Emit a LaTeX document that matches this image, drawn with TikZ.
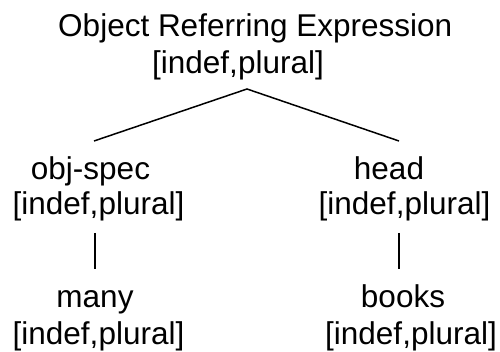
\documentclass[tikz,border=0pt]{standalone}
\usepackage{fontspec}
\setmainfont{Liberation Sans}
\begin{document}
\begin{tikzpicture}[x=1pt,y=-1pt,
  lbl/.style={anchor=base,inner sep=0pt,font=\fontsize{31.5}{36}\selectfont},
  edge/.style={line width=1.5pt,line cap=butt}]
\useasboundingbox (0,0) rectangle (500,352);
% root
\node[lbl] (root)  at (255.2,37)  {Object Referring Expression};
\node[lbl] (rootf) at (238,73.5)  {[indef,plural]};
% obj-spec branch
\node[lbl] (spec)  at (90.5,180)  {obj-spec};
\node[lbl] (specf) at (98.5,215)  {[indef,plural]};
\node[lbl] (many)  at (95,307)    {many};
\node[lbl] (manyf) at (98.5,344)  {[indef,plural]};
% head branch
\node[lbl] (head)  at (389,180)   {head};
\node[lbl] (headf) at (404.5,215) {[indef,plural]};
\node[lbl] (books) at (403,307)   {books};
\node[lbl] (booksf) at (411,344)  {[indef,plural]};
% connector end points
\coordinate (apex) at (247,89);
\coordinate (specT) at (94,141);
\coordinate (headT) at (399,141);
\coordinate (specB) at (95,233);
\coordinate (manyT) at (95,269);
\coordinate (headB) at (399,233);
\coordinate (booksT) at (399,269);
\draw[edge] (specT) -- (apex) -- (headT);
\draw[edge] (specB) -- (manyT);
\draw[edge] (headB) -- (booksT);
\end{tikzpicture}
\end{document}
